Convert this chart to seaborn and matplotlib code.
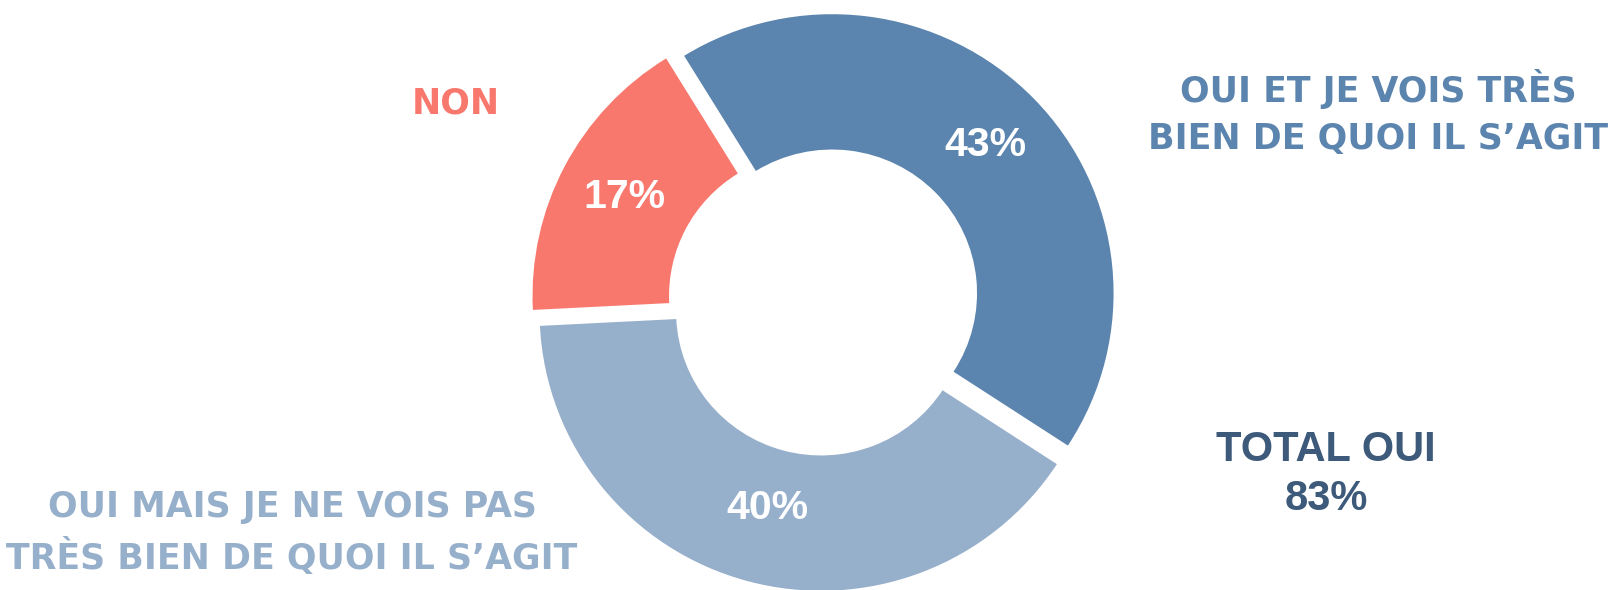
import math
import matplotlib
matplotlib.use("Agg")
import matplotlib.pyplot as plt
import seaborn as sns

# Survey answers, clockwise from the top
categories = [
    "OUI ET JE VOIS TRÈS\nBIEN DE QUOI IL S’AGIT",
    "OUI MAIS JE NE VOIS PAS\nTRÈS BIEN DE QUOI IL S’AGIT",
    "NON",
]
values = [43, 40, 17]
total_label = "TOTAL OUI"

sns.set_theme(style="white")
palette = sns.color_palette(["#5B84AE", "#96AFCB", "#F8786D"])
total_color = "#3D5A7A"

W, H, DPI = 1612, 590, 100
fig = plt.figure(figsize=(W / DPI, H / DPI), dpi=DPI)
fig.patch.set_facecolor("white")

# Axes spanning the whole figure; one data unit = outer radius
RX_PX, RY_PX = 281.5, 279.0   # pixels per data unit, horizontal / vertical
CX, CY = 824, 301             # donut centre, pixels from left / top
ax = fig.add_axes([0, 0, 1, 1])

wedges, _ = ax.pie(
    values,
    colors=palette,
    startangle=121.7,
    counterclock=False,
    explode=[0.04] * len(values),
    radius=1.0,
    wedgeprops=dict(width=0.485, edgecolor="none"),
)

# Percentage labels in the middle of each ring segment
pct_radius = [0.76, 0.73, 0.76]
for w, v, rad in zip(wedges, values, pct_radius):
    mid = math.radians((w.theta1 + w.theta2) / 2)
    x0, y0 = w.center
    ax.text(x0 + rad * math.cos(mid), y0 + rad * math.sin(mid), f"{v}%",
            ha="center", va="center", color="white", fontsize=29.5,
            fontweight="bold", family=["Liberation Sans", "DejaVu Sans"])

ax.set_xlim(-CX / RX_PX, (W - CX) / RX_PX)
ax.set_ylim(-(H - CY) / RY_PX, CY / RY_PX)
ax.set_aspect("auto")
ax.axis("off")


def place(x_px, y_px, text, color, size, family, pitch=0):
    for i, line in enumerate(text.split("\n")):
        fig.text(x_px / W, 1 - (y_px + i * pitch) / H, line,
                 ha="center", va="center", color=color, fontsize=size,
                 fontweight="bold", family=family)


label_font = ["DejaVu Sans"]
place(1378, 89, categories[0], palette[0], 25, label_font, 50)
place(292, 507, categories[1], palette[1], 25, label_font, 50)
place(456, 103, categories[2], palette[2], 25, label_font)

total_yes = values[0] + values[1]
place(1326, 450, f"{total_label}\n{total_yes}%", total_color, 30,
      ["Liberation Sans", "DejaVu Sans"], 49)

fig.savefig("out.png", dpi=DPI, facecolor="white")
